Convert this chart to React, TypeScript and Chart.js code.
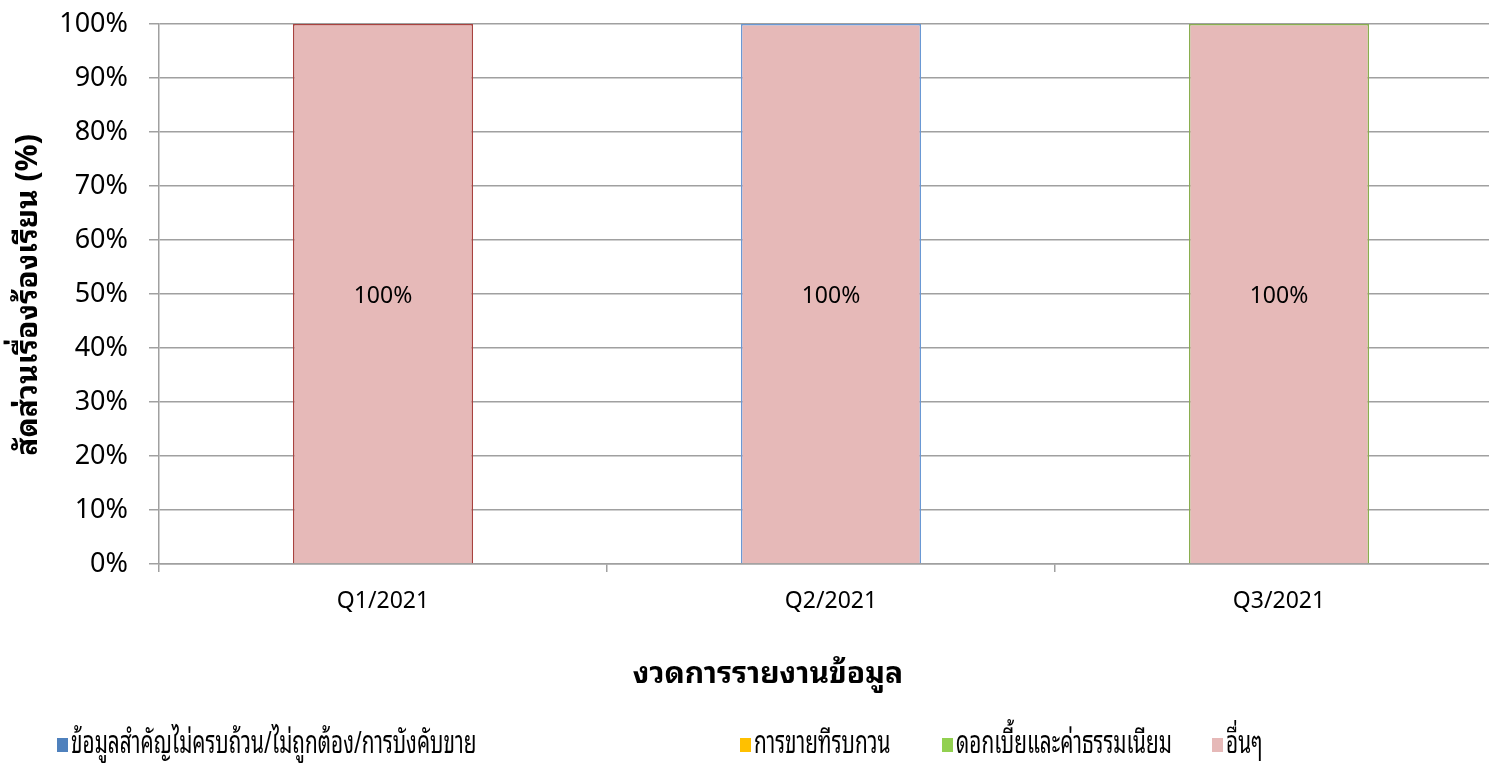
import React, { useEffect, useRef } from 'react';
import { Chart, registerables } from 'chart.js';

Chart.register(...registerables);

const categories = ['Q1/2021', 'Q2/2021', 'Q3/2021'];
const seriesNames = [
  'ข้อมูลสำคัญไม่ครบถ้วน/ไม่ถูกต้อง/การบังคับขาย',
  'การขายทีรบกวน',
  'ดอกเบี้ยและค่าธรรมเนียม',
  'อื่นๆ',
];
const infoValues = [0, 0, 0];
const harassValues = [0, 0, 0];
const feeValues = [0, 0, 0];
const otherValues = [100, 100, 100];
const yTicks = [0, 10, 20, 30, 40, 50, 60, 70, 80, 90, 100];
const yTitle = 'สัดส่วนเรื่องร้องเรียน (%)';
const xTitle = 'งวดการรายงานข้อมูล';

const seriesColors = ['#4F81BD', '#FFC000', '#92D050', '#E6B9B8'];
const otherBorders = ['#A8423F', '#6A98D4', '#8AAE4F'];
const legendX = [57, 740, 942, 1212];

const NUM_FONT = '"Noto Sans", "Liberation Sans", sans-serif';
const THAI_FONT = '"Noto Sans Thai Looped", "Noto Sans Thai", "Noto Sans", "DejaVu Sans", sans-serif';

export default function App() {
  const ref = useRef<HTMLCanvasElement>(null);

  useEffect(() => {
    document.body.style.margin = '0';
    document.body.style.overflow = 'hidden';
    const canvas = ref.current!;

    const overlay = {
      id: 'overlay',
      afterDatasetsDraw(chart: any) {
        const ctx = chart.ctx;
        ctx.save();
        ctx.fillStyle = '#000';
        ctx.font = `23px ${NUM_FONT}`;
        ctx.textAlign = 'center';
        ctx.textBaseline = 'middle';
        chart.data.datasets.forEach((ds: any, di: number) => {
          const meta = chart.getDatasetMeta(di);
          meta.data.forEach((el: any, i: number) => {
            const v = ds.data[i];
            if (!v) return;
            ctx.fillText(`${v}%`, el.x, (el.y + el.base) / 2 + 3);
          });
        });
        ctx.restore();
      },
      afterDraw(chart: any) {
        const ctx = chart.ctx;
        ctx.save();
        ctx.fillStyle = '#000';
        ctx.font = `bold 30px ${THAI_FONT}`;
        ctx.textAlign = 'center';
        ctx.textBaseline = 'middle';
        ctx.translate(29, 295);
        ctx.rotate(-Math.PI / 2);
        ctx.fillText(yTitle, 0, 0);
        ctx.restore();

        ctx.save();
        ctx.fillStyle = '#000';
        ctx.font = `bold 30px ${THAI_FONT}`;
        ctx.textAlign = 'center';
        ctx.textBaseline = 'middle';
        ctx.fillText(xTitle, 768, 675);

        // legend
        ctx.font = `31px ${THAI_FONT}`;
        ctx.textAlign = 'left';
        chart.data.datasets.forEach((ds: any, i: number) => {
          const x = legendX[i];
          ctx.fillStyle = seriesColors[i];
          ctx.fillRect(x, 738, 11, 14);
          ctx.fillStyle = '#000';
          ctx.save();
          ctx.translate(x + 14, 744);
          ctx.scale(0.67, 1);
          ctx.fillText(ds.label, 0, 0);
          ctx.restore();
        });
        ctx.restore();
      },
    };

    const chart = new Chart(canvas, {
      type: 'bar',
      data: {
        labels: categories,
        datasets: [
          { label: seriesNames[0], data: infoValues, backgroundColor: seriesColors[0], borderWidth: 0 },
          { label: seriesNames[1], data: harassValues, backgroundColor: seriesColors[1], borderWidth: 0 },
          { label: seriesNames[2], data: feeValues, backgroundColor: seriesColors[2], borderWidth: 0 },
          {
            label: seriesNames[3],
            data: otherValues,
            backgroundColor: seriesColors[3],
            borderColor: otherBorders,
            borderWidth: 1.5,
            borderSkipped: 'bottom',
          },
        ],
      },
      options: {
        animation: false,
        responsive: false,
        maintainAspectRatio: false,
        layout: { padding: { top: 24, right: 7, left: 0, bottom: 0 } },
        datasets: { bar: { categoryPercentage: 1, barPercentage: 0.402 } },
        plugins: { legend: { display: false }, tooltip: { enabled: false }, title: { display: false } },
        scales: {
          x: {
            stacked: true,
            afterFit: (s: any) => { s.height = 767 - 564; s.paddingLeft = 0; s.paddingRight = 0; },
            grid: { drawOnChartArea: false, drawTicks: true, tickLength: 8, color: '#A0A0A0', offset: true, lineWidth: 1.5 },
            border: { color: '#A0A0A0', width: 1.5 },
            ticks: { color: '#000', font: { family: NUM_FONT, size: 23 }, padding: 16, maxRotation: 0 },
          },
          y: {
            stacked: true,
            min: 0,
            max: 100,
            afterFit: (s: any) => { s.width = 159; s.paddingTop = 0; s.paddingBottom = 0; },
            afterBuildTicks: (s: any) => { s.ticks = yTicks.map((v) => ({ value: v })); },
            grid: { color: '#A0A0A0', tickLength: 10, lineWidth: 1.5 },
            border: { color: '#A0A0A0', width: 1.5 },
            ticks: {
              color: '#000',
              font: { family: NUM_FONT, size: 27 },
              padding: 21,
              callback: (v: any) => `${v}%`,
            },
          },
        },
      },
      plugins: [overlay],
    });
    return () => chart.destroy();
  }, []);

  return (
    <div style={{ width: 1489, height: 767, overflow: 'hidden', background: '#fff' }}>
      <canvas ref={ref} width={1510} height={767} style={{ width: 1510, height: 767, display: 'block' }} />
    </div>
  );
}
